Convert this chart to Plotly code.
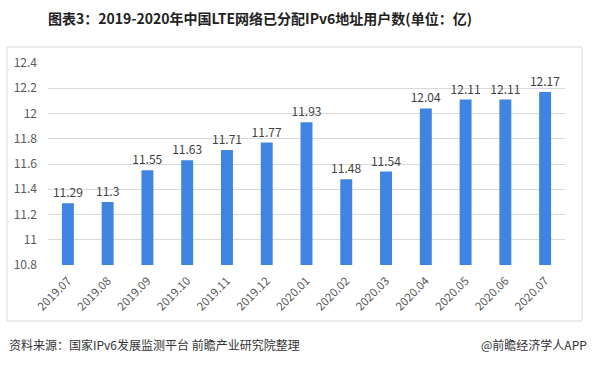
import plotly.graph_objects as go

categories = ["2019.07", "2019.08", "2019.09", "2019.10", "2019.11", "2019.12", "2020.01",
              "2020.02", "2020.03", "2020.04", "2020.05", "2020.06", "2020.07"]
values = [11.29, 11.3, 11.55, 11.63, 11.71, 11.77, 11.93, 11.48, 11.54, 12.04, 12.11, 12.11, 12.17]
value_labels = ["11.29", "11.3", "11.55", "11.63", "11.71", "11.77", "11.93",
                "11.48", "11.54", "12.04", "12.11", "12.11", "12.17"]
y_ticks = [10.8, 11, 11.2, 11.4, 11.6, 11.8, 12, 12.2, 12.4]
y_ticktext = ["10.8", "11", "11.2", "11.4", "11.6", "11.8", "12", "12.2", "12.4"]

title = "图表3：2019-2020年中国LTE网络已分配IPv6地址用户数(单位：亿)"
source = "资料来源：国家IPv6发展监测平台 前瞻产业研究院整理"
brand = "@前瞻经济学人APP"

FONT = "Noto Sans CJK SC, Microsoft YaHei, sans-serif"

fig = go.Figure(go.Bar(
    x=categories, y=values, width=0.3,
    marker=dict(color="#3E84E0", line=dict(width=0)),
    text=value_labels, textposition="outside", cliponaxis=False, constraintext="none",
    textfont=dict(size=12, color="#404040", family=FONT),
))

W, H = 592, 365
L, R, T, B = 48, 27, 63, 100
pw, ph = W - L - R, H - T - B

def px(x):
    return (x - L) / pw

def py(y):
    return (H - B - y) / ph

fig.update_layout(
    width=W, height=H,
    margin=dict(l=L, r=R, t=T, b=B),
    paper_bgcolor="white", plot_bgcolor="white",
    showlegend=False,
    font=dict(family=FONT, color="#595959"),
    xaxis=dict(tickangle=-45, tickfont=dict(size=11.5, color="#595959"),
               showgrid=False, showline=False, ticks="", zeroline=False,
               ticklabelstandoff=6),
    yaxis=dict(range=[10.8, 12.4], tickvals=y_ticks, ticktext=y_ticktext,
               tickfont=dict(size=12, color="#595959"), showgrid=True,
               gridcolor="#D9D9D9", gridwidth=1, zeroline=False, showline=False,
               ticks="", ticklabelstandoff=10),
    bargap=0.7,
)

fig.add_shape(type="rect", xref="paper", yref="paper",
              x0=px(7), x1=px(582), y0=py(321), y1=py(47),
              line=dict(color="#D9D9D9", width=1), fillcolor="rgba(0,0,0,0)", layer="below")

fig.add_annotation(text="<b>" + title + "</b>", xref="paper", yref="paper",
                   x=px(260), y=py(18), xanchor="center", yanchor="middle",
                   showarrow=False, font=dict(size=14, color="#222222", family=FONT))
fig.add_annotation(text=source, xref="paper", yref="paper",
                   x=px(7), y=py(344), xanchor="left", yanchor="middle",
                   showarrow=False, font=dict(size=12, color="#333333", family=FONT))
fig.add_annotation(text=brand, xref="paper", yref="paper",
                   x=px(589), y=py(344), xanchor="right", yanchor="middle",
                   showarrow=False, font=dict(size=12, color="#333333", family=FONT))

fig.write_html("out.html", config={"displayModeBar": False},
               post_script="document.body.style.margin='0';document.body.style.overflow='hidden';")
